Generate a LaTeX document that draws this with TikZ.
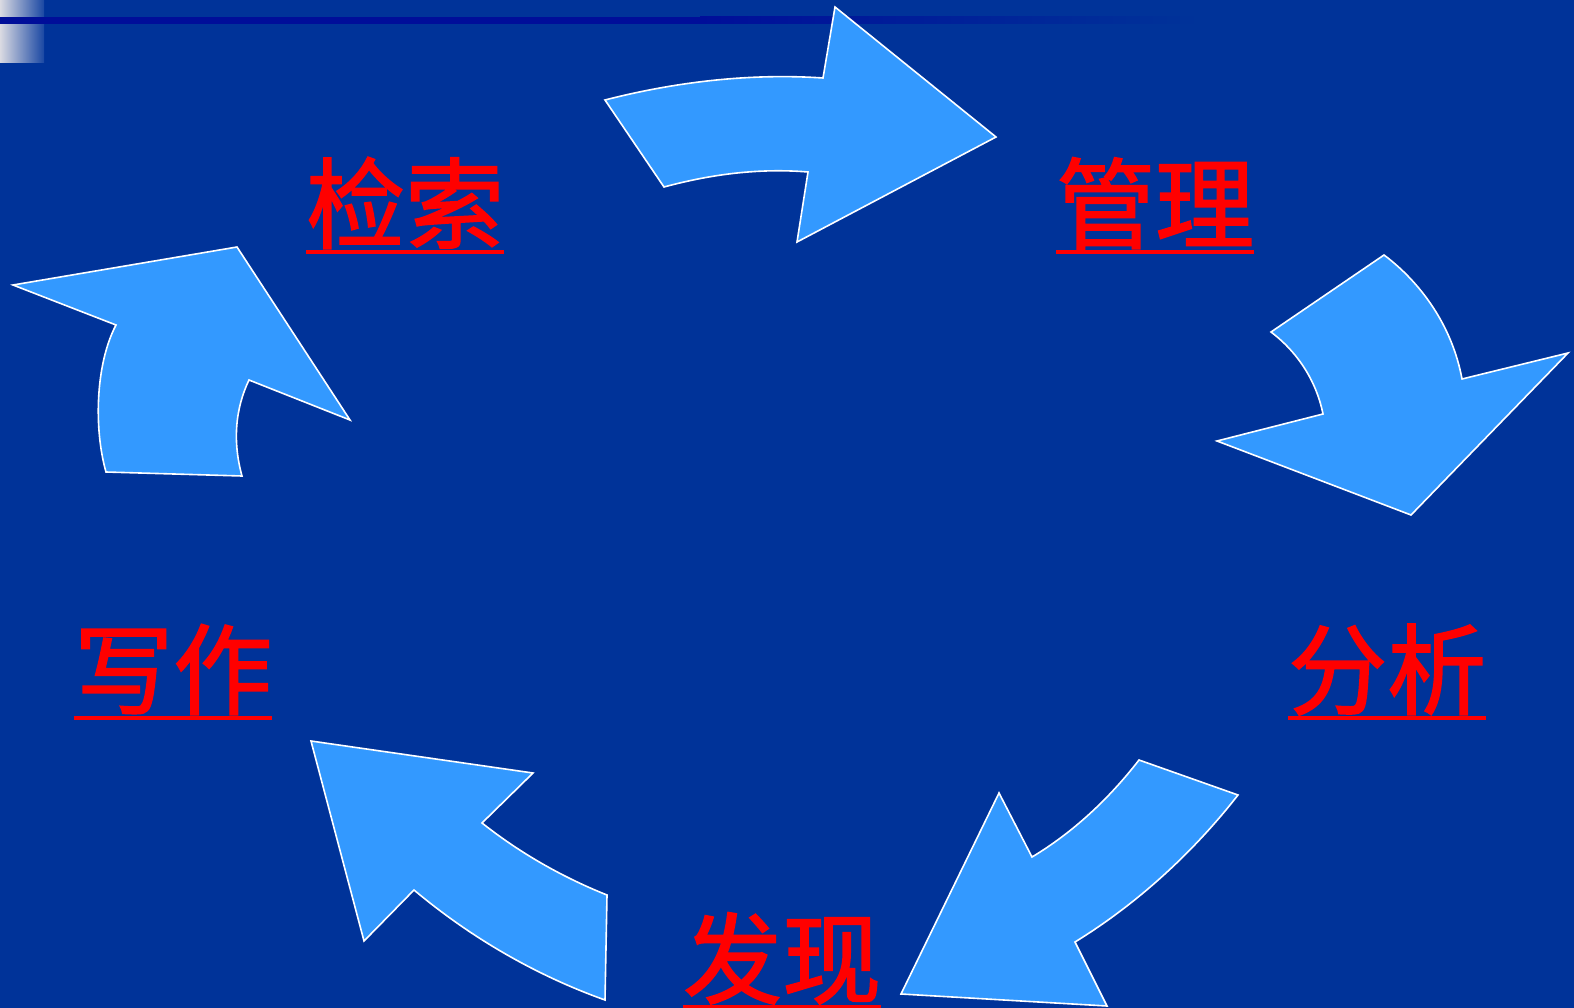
\documentclass[tikz,border=0pt]{standalone}
\usepackage{fontspec}
\newfontfamily\cjk[FakeBold=1.6]{Noto Sans CJK SC}
\definecolor{bgblue}{HTML}{003399}
\definecolor{arrowblue}{HTML}{3399FF}
\definecolor{navyline}{HTML}{000E99}
\definecolor{lightgrey}{HTML}{DADAE2}
\tikzset{
  bigarrow/.style={fill=arrowblue, draw=white, line width=1.6pt, line join=miter},
  label/.style={text=red, font=\cjk\fontsize{99}{99}\selectfont, inner sep=0pt, anchor=base west},
  uline/.style={draw=red, line width=3.6pt}
}
\begin{document}
\begin{tikzpicture}[x=1pt, y=-1pt]
\fill[bgblue] (0,0) rectangle (1574,1008);
\useasboundingbox (0,0) rectangle (1574,1008);
% top-left decoration
\shade[left color=lightgrey, right color=bgblue!90!white] (0,0) rectangle (44,63);
\fill[navyline] (0,17) rectangle (700,24);
\shade[left color=navyline, right color=bgblue] (700,17) rectangle (1200,24);

% arrow 1: top (检索 -> 管理)
\path[bigarrow] (605,100) .. controls (675,82) and (750,73) .. (823,78)
  -- (835,7) -- (996,137) -- (797,242) -- (808,172)
  .. controls (760,168) and (712,174) .. (664,187) -- cycle;

% arrow 2: right top (管理 -> 分析)
\path[bigarrow] (1384,255) .. controls (1420,282) and (1452,325) .. (1462,379)
  -- (1568,353) -- (1411,515) -- (1217,441) -- (1323,414)
  .. controls (1317,384) and (1300,354) .. (1271,332) -- cycle;

% arrow 3: bottom right (分析 -> 发现)
\path[bigarrow] (1238,795) .. controls (1195,850) and (1140,902) .. (1075,942)
  -- (1107,1006) -- (901,994) -- (999,793) -- (1032,857)
  .. controls (1072,833) and (1108,800) .. (1139,760) -- cycle;

% arrow 4: bottom left (发现 -> 写作)
\path[bigarrow] (311,741) -- (533,773) -- (482,823)
  .. controls (520,853) and (562,877) .. (607,895)
  -- (605,1000) .. controls (535,975) and (470,937) .. (414,890)
  -- (364,941) -- cycle;

% arrow 5: left (写作 -> 检索)
\path[bigarrow] (13,285) -- (237,247) -- (350,420) -- (249,380)
  .. controls (236,407) and (232,440) .. (242,476)
  -- (106,472) .. controls (94,430) and (95,365) .. (116,325) -- cycle;

% labels
\node[label] (t1) at (306,241) {检索};
\node[label] (t2) at (1056,241) {管理};
\node[label] (t3) at (1288,707) {分析};
\node[label] (t4) at (683,996) {发现};
\node[label] (t5) at (74,707) {写作};
\foreach \n in {t1,t2,t3,t4,t5}
  \draw[uline] ([yshift=-11pt]\n.base west) -- ([yshift=-11pt]\n.base east);
\end{tikzpicture}
\end{document}
